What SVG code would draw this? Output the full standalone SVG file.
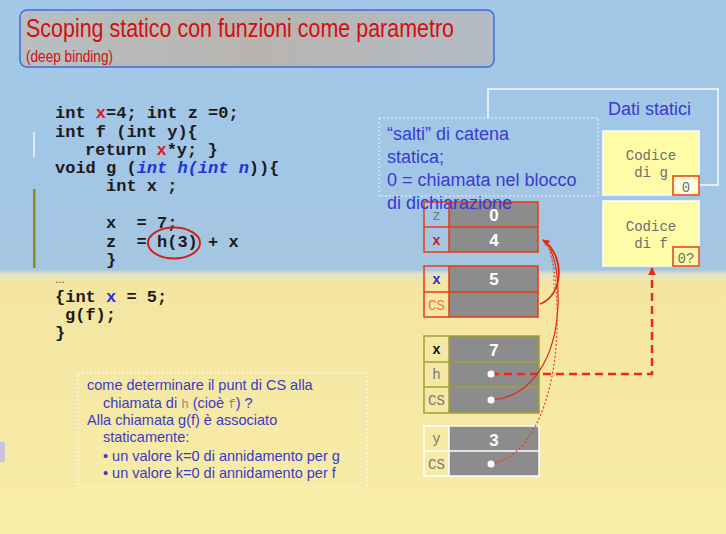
<svg xmlns="http://www.w3.org/2000/svg" width="726" height="534" viewBox="0 0 726 534">
  <defs>
    <linearGradient id="bg" x1="0" y1="0" x2="0" y2="1">
      <stop offset="0" stop-color="#a4c9e8"/>
      <stop offset="0.3" stop-color="#a2c6e6"/>
      <stop offset="0.505" stop-color="#a6c6e0"/>
      <stop offset="0.513" stop-color="#e4e2c4"/>
      <stop offset="0.53" stop-color="#f3e5a2"/>
      <stop offset="1" stop-color="#f8eda8"/>
    </linearGradient>
    <linearGradient id="titleFill" x1="0" y1="0" x2="1" y2="0">
      <stop offset="0" stop-color="#b7bfc2"/>
      <stop offset="0.5" stop-color="#b8b4b0"/>
      <stop offset="1" stop-color="#b2bcc6"/>
    </linearGradient>
    <marker id="arrowRed" viewBox="0 0 10 10" refX="9" refY="5" markerWidth="7" markerHeight="7" orient="auto" markerUnits="userSpaceOnUse">
      <path d="M0 0 L10 5 L0 10 Z" fill="#e02810"/>
    </marker>
    <marker id="arrowUp" viewBox="0 0 10 10" refX="9" refY="5" markerWidth="8" markerHeight="8" orient="auto" markerUnits="userSpaceOnUse">
      <path d="M0 0 L10 5 L0 10 Z" fill="#f02a10"/>
    </marker>
  </defs>
  <style>
    .code { font-family: "Liberation Mono", "Courier New", monospace; font-weight: bold; font-size: 17px; fill: #1a1a1a; white-space: pre; }
    .red { fill: #e01818; }
    .blue { fill: #2030e0; }
    .ital { font-style: italic; }
    .note { font-family: "Liberation Sans", Arial, sans-serif; font-size: 14.5px; fill: #3a3ac8; }
    .mono-gray { font-family: "Liberation Mono", "Courier New", monospace; fill: #8a8a8a; font-size: 12.5px; }
    .salti { font-family: "Liberation Sans", Arial, sans-serif; font-size: 18px; fill: #3a3ad0; }
    .codeBox { fill: #fffca8; stroke: #ffffff; stroke-width: 1.5; }
    .codeLbl { font-family: "Liberation Mono", "Courier New", monospace; font-size: 14px; fill: #6e6e6e; text-anchor: middle; }
    .tag { fill: none; stroke: #e83a18; stroke-width: 1.5; }
    .val { fill: #8c8c8c; }
    .valTxt { font-family: "Liberation Sans", Arial, sans-serif; font-weight: bold; font-size: 17px; fill: #ffffff; text-anchor: middle; }
    .lbl { font-family: "Liberation Mono", "Courier New", monospace; font-size: 14px; text-anchor: middle; fill: #777777; }
    .dot { fill: #ffffff; }
  </style>

  <!-- slide background -->
  <rect x="0" y="0" width="726" height="534" fill="url(#bg)"/>
  <rect x="0" y="442" width="5" height="20" fill="#cbc4dc"/>

  <!-- title -->
  <g id="title">
    <rect x="20" y="10" width="474" height="57" rx="7" fill="url(#titleFill)" stroke="#3a6ed8" stroke-width="1.5"/>
    <text x="26" y="37" font-family="Liberation Sans, Arial, sans-serif" font-size="26" fill="#d80c0c" textLength="428" lengthAdjust="spacingAndGlyphs">Scoping statico con funzioni come parametro</text>
    <text x="26" y="62" font-family="Liberation Sans, Arial, sans-serif" font-size="16.5" fill="#d80c0c" textLength="87" lengthAdjust="spacingAndGlyphs">(deep binding)</text>
  </g>

  <!-- source code -->
  <g id="code">
    <rect x="33" y="132" width="2" height="25" fill="#eef2f6" opacity="0.8"/>
    <rect x="33" y="189" width="2.5" height="79" fill="#8c8a22"/>
    <text class="code" x="55" y="118" xml:space="preserve">int <tspan class="red">x</tspan>=4; int z =0;</text>
    <text class="code" x="55" y="137" xml:space="preserve">int f (int y){</text>
    <text class="code" x="85" y="155" xml:space="preserve">return <tspan class="red">x</tspan>*y; }</text>
    <text class="code" x="55" y="173" xml:space="preserve">void g (<tspan class="blue ital">int h(int n</tspan>)){</text>
    <text class="code" x="106" y="191" xml:space="preserve">int x ;</text>
    <text class="code" x="106" y="228" xml:space="preserve">x  = 7;</text>
    <text class="code" x="106" y="247" xml:space="preserve">z  = h(3) + x</text>
    <text class="code" x="106" y="265">}</text>
    <text x="55" y="283" font-family="Liberation Sans, Arial, sans-serif" font-size="10" fill="#333333">…</text>
    <text class="code" x="55" y="302" xml:space="preserve">{int <tspan class="blue">x</tspan> = 5;</text>
    <text class="code" x="65" y="320">g(f);</text>
    <text class="code" x="55" y="338">}</text>
    <ellipse cx="174" cy="243" rx="26" ry="15.5" fill="none" stroke="#d02010" stroke-width="2"/>
  </g>

  <!-- explanatory note -->
  <g id="note">
    <rect x="78" y="373" width="289" height="115" fill="none" stroke="#ffffff" stroke-width="1" stroke-dasharray="2 2" opacity="0.9"/>
    <text class="note" x="87" y="390">come determinare il punt di CS alla</text>
    <text class="note" x="103" y="408">chiamata di <tspan class="mono-gray">h</tspan> (cioè <tspan class="mono-gray">f</tspan>) ?</text>
    <text class="note" x="87" y="425">Alla chiamata g(f) è associato</text>
    <text class="note" x="103" y="442">staticamente:</text>
    <text class="note" x="103" y="461">• un valore k=0 di annidamento per g</text>
    <text class="note" x="103" y="478">• un valore k=0 di annidamento per f</text>
  </g>

  <!-- static data area -->
  <g id="static-data">
    <path d="M488 118 L488 89 L718 89 L718 185 L700 185" fill="none" stroke="#ffffff" stroke-width="1.5" opacity="0.9"/>
    <text x="608" y="115" font-family="Liberation Sans, Arial, sans-serif" font-size="18" fill="#3a3ad0">Dati statici</text>
  </g>

  <g id="code-g">
    <rect class="codeBox" x="603" y="131" width="96" height="64"/>
    <text class="codeLbl" x="651" y="160">Codice</text>
    <text class="codeLbl" x="651" y="177">di g</text>
    <ellipse cx="686" cy="185.5" rx="12" ry="9" fill="#ffffff" opacity="0.7"/>
    <rect class="tag" x="673" y="176" width="26" height="19"/>
    <text class="codeLbl" x="686" y="192">0</text>
  </g>

  <g id="code-f">
    <rect class="codeBox" x="603" y="201" width="96" height="65"/>
    <text class="codeLbl" x="651" y="231">Codice</text>
    <text class="codeLbl" x="651" y="248">di f</text>
    <rect class="tag" x="673" y="247" width="26" height="19"/>
    <text class="codeLbl" x="686" y="263">0?</text>
  </g>

  <!-- static chain remark -->
  <g id="salti">
    <rect x="379" y="118" width="219" height="78" fill="none" stroke="#ffffff" stroke-width="1" stroke-dasharray="2 2" opacity="0.8"/>
    <text class="salti" x="387" y="140">“salti” di catena</text>
    <text class="salti" x="387" y="163">statica;</text>
    <text class="salti" x="387" y="186">0 = chiamata nel blocco</text>
  </g>

  <!-- activation records -->
  <g id="frame-global">
    <rect class="val" x="449" y="202" width="89" height="50"/>
    <g fill="none" stroke="#e83a18" stroke-width="1.5">
      <rect x="424" y="202" width="114" height="50"/>
      <line x1="449" y1="202" x2="449" y2="252"/>
      <line x1="424" y1="227" x2="538" y2="227"/>
    </g>
    <text class="lbl" x="436.5" y="220">z</text>
    <text class="lbl" x="436.5" y="245" font-weight="bold" style="fill:#c81818">x</text>
    <text class="valTxt" x="494" y="221">0</text>
    <text class="valTxt" x="494" y="246">4</text>
  </g>

  <!-- last line of the remark runs over the global record -->
  <text class="salti" x="387" y="209">di dichiarazione</text>

  <g id="frame-block">
    <rect class="val" x="449" y="266" width="89" height="51"/>
    <g fill="none" stroke="#e83a18" stroke-width="1.5">
      <rect x="424" y="266" width="114" height="51"/>
      <line x1="449" y1="266" x2="449" y2="317"/>
      <line x1="424" y1="292" x2="538" y2="292"/>
    </g>
    <text class="lbl" x="436.5" y="284" font-weight="bold" style="fill:#2030c8">x</text>
    <text class="lbl" x="436.5" y="310" style="fill:#e8785a">CS</text>
    <text class="valTxt" x="494" y="285">5</text>
  </g>

  <g id="frame-g">
    <rect class="val" x="449" y="336" width="90" height="77"/>
    <g fill="none" stroke="#a4a032" stroke-width="1.5">
      <rect x="424" y="336" width="115" height="77"/>
      <line x1="449" y1="336" x2="449" y2="413"/>
      <line x1="424" y1="362" x2="539" y2="362"/>
      <line x1="424" y1="387" x2="539" y2="387"/>
    </g>
    <text class="lbl" x="436.5" y="354" font-weight="bold" style="fill:#111111">x</text>
    <text class="lbl" x="436.5" y="379">h</text>
    <text class="lbl" x="436.5" y="405">CS</text>
    <text class="valTxt" x="494" y="356">7</text>
  </g>

  <g id="frame-f">
    <rect class="val" x="449" y="426" width="90" height="50"/>
    <g fill="none" stroke="#ffffff" stroke-width="1.5">
      <rect x="424" y="426" width="115" height="50"/>
      <line x1="449" y1="426" x2="449" y2="476"/>
      <line x1="424" y1="451" x2="539" y2="451"/>
    </g>
    <text class="lbl" x="436.5" y="443">y</text>
    <text class="lbl" x="436.5" y="469">CS</text>
    <text class="valTxt" x="494" y="446">3</text>
  </g>

  <!-- links between records and code -->
  <g id="connectors" fill="none">
    <path d="M491 374 L652 374 L652 268" stroke="#f02a10" stroke-width="2.5" stroke-dasharray="8 5" marker-end="url(#arrowUp)"/>
    <path d="M540 304 C 563 296, 566 256, 543 240" stroke="#e02810" stroke-width="1.8" marker-end="url(#arrowRed)"/>
    <path d="M491 400 C 530 398, 556 360, 558 305 C 559 268, 553 248, 543 240" stroke="#e02810" stroke-width="1.2"/>
    <path d="M491 464 C 530 458, 555 400, 557 330 C 558 282, 553 252, 545 242" stroke="#e84020" stroke-width="1.2" stroke-dasharray="2 2"/>
    <path d="M547 244 C 552 252, 554 270, 554 290" stroke="#f07050" stroke-width="1" stroke-dasharray="2 2"/>
  </g>

  <g id="pointers">
    <circle class="dot" cx="491" cy="374" r="3.5"/>
    <circle class="dot" cx="491" cy="400" r="3.5"/>
    <circle class="dot" cx="491" cy="464" r="3.5"/>
  </g>
</svg>
